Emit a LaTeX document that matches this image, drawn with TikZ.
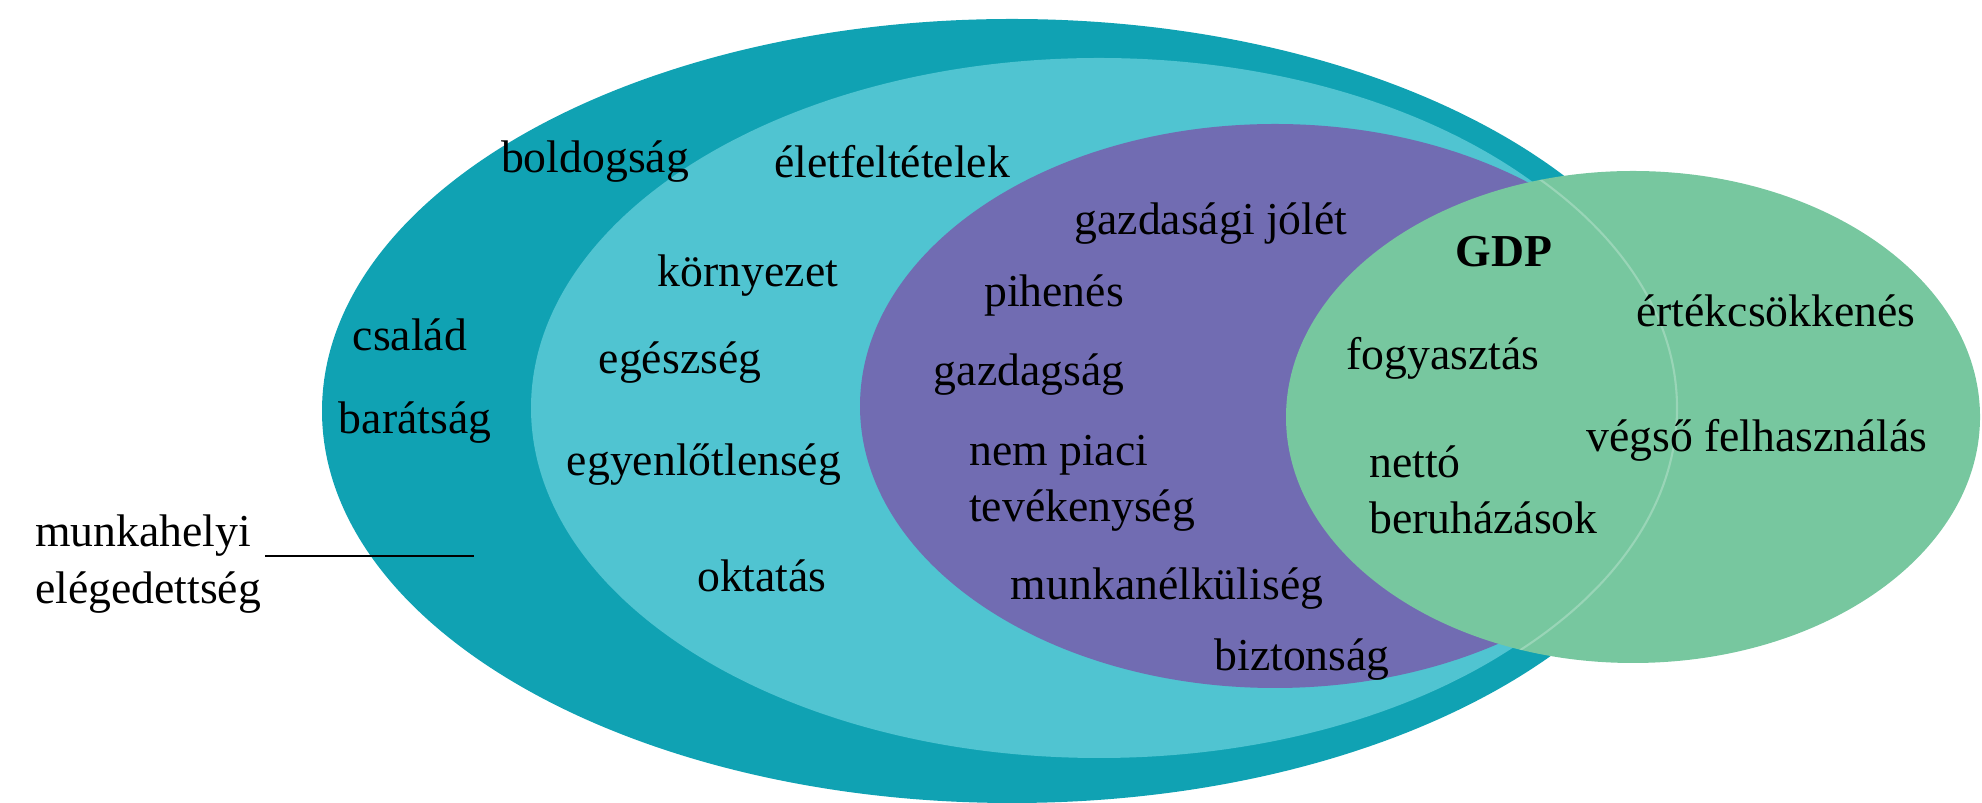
\documentclass[tikz,border=0pt]{standalone}
\usepackage{fontspec}
\setmainfont{Liberation Serif}
\definecolor{outerteal}{HTML}{10A2B3}
\definecolor{innerteal}{HTML}{50C4D1}
\definecolor{welfare}{HTML}{716CB2}
\definecolor{gdpgreen}{HTML}{77C79F}
\begin{document}
\begin{tikzpicture}[x=0.1mm,y=-0.1mm]

      \useasboundingbox (0,0) rectangle (1982,803);

      \fill[outerteal] (1012,411) ellipse (690 and 392);
      \fill[innerteal] (1099,408) ellipse (568 and 350);
      \fill[welfare] (1275,406) ellipse (415 and 282);
      \fill[gdpgreen] (1633,417) ellipse (347 and 246);
      \begin{scope}
        \clip (1633,417) ellipse (347 and 246);
        \draw[white,opacity=0.25,line width=0.6pt] (1105,408) ellipse (572 and 352);
      \end{scope}

      \begin{scope}[every node/.style={font=\fontsize{13}{16}\selectfont,inner sep=1pt}]
        \node (boldog) at (595,162) {boldogság};
        \node (eletf) at (892,162) {életfeltételek};
        \node (jolet) at (1211,224) {gazdasági jólét};
        \node (gdp) at (1504,252) {\bfseries GDP};
        \node (kornyezet) at (748,276) {környezet};
        \node (piheno) at (1054,295) {pihenés};
        \node (ertekcs) at (1776,311) {értékcsökkenés};
        \node (csalad) at (410,335) {család};
        \node (egeszseg) at (680,363) {egészség};
        \node (fogyaszt) at (1443,358) {fogyasztás};
        \node (gazdag) at (1029,375) {gazdagság};
        \node (barat) at (415,423) {barátság};
        \node (vegso) at (1757,440) {végső felhasználás};
        \node[anchor=west,align=left] (nempiaci) at (965,483) {nem piaci\\tevékenység};
        \node (egyenl) at (704,465) {egyenlőtlenség};
        \node[anchor=west,align=left] (netto) at (1365,490) {nettó\\beruházások};
        \node[anchor=west,align=left] (munka) at (31,564) {munkahelyi\\elégedettség};
        \node (oktatas) at (762,576) {oktatás};
        \node (munkanelk) at (1167,589) {munkanélküliség};
        \node (bizton) at (1302,660) {biztonság};
      \end{scope}

      \coordinate (munkavege) at (474,556);
      \draw[line width=0.7pt] (munka.east |- munkavege) -- (munkavege);

    \end{tikzpicture}
\end{document}
